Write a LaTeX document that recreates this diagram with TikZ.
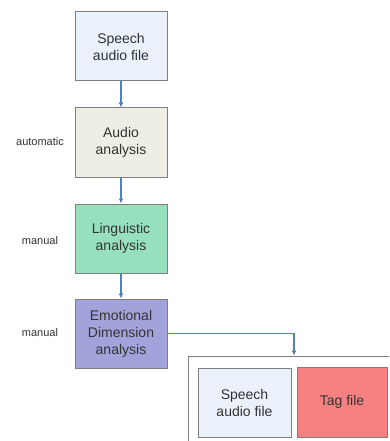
\documentclass[tikz,border=0pt]{standalone}
\usepackage{fontspec}
\setmainfont{Liberation Sans}
\usetikzlibrary{arrows.meta}
\definecolor{bordergray}{HTML}{7F7F7F}
\definecolor{arrowblue}{HTML}{4F81BD}
\definecolor{txtgray}{HTML}{333333}
\definecolor{fillblue}{HTML}{EAF1FA}
\definecolor{fillbeige}{HTML}{EEEEE4}
\definecolor{fillgreen}{HTML}{96E0BE}
\definecolor{fillpurple}{HTML}{A3A3DB}
\definecolor{fillred}{HTML}{F78080}
\tikzset{
  box/.style={draw=bordergray, line width=1pt, rectangle, minimum width=92pt, minimum height=69pt,
    align=center, inner sep=0pt, text=txtgray, font=\fontsize{14}{17}\selectfont},
  sidelabel/.style={text=txtgray, font=\fontsize{11}{13}\selectfont, inner sep=0pt},
  flow/.style={draw=arrowblue, line width=1.2pt, -{Latex[length=5pt,width=5pt]}}
}
\begin{document}
\begin{tikzpicture}[x=1pt,y=-1pt]
\useasboundingbox (0,0) rectangle (389,441);
\clip (0,0) rectangle (389,441);
\fill[white] (0,0) rectangle (389,441);
\node[box, fill=fillblue] (s1) at (121,46.5) {Speech\\audio file};
\node[box, fill=fillbeige] (a) at (121,142.5) {Audio\\analysis};
\node[box, fill=fillgreen] (l) at (121,238.5) {Linguistic\\analysis};
\node[box, fill=fillpurple] (e) at (121,333.5) {Emotional\\Dimension\\analysis};
\node[sidelabel] (la) at (40,142) {automatic};
\node[sidelabel] (ll) at (40,241) {manual};
\node[sidelabel] (le) at (40,333) {manual};
\node[draw=bordergray, line width=1pt, rectangle, minimum width=212pt, minimum height=94pt, inner sep=0pt] (out) at (294,403) {};
\node[box, fill=fillblue, minimum width=93pt] (s2) at (244.5,402.5) {Speech\\audio file};
\node[box, fill=fillred, minimum width=90pt, minimum height=70pt] (t) at (342,402) {Tag file};
\draw[flow] (s1) -- (a);
\draw[flow] (a) -- (l);
\draw[flow] (l) -- (e);
\draw[flow] (e.east) -| (out.north);
\end{tikzpicture}
\end{document}
